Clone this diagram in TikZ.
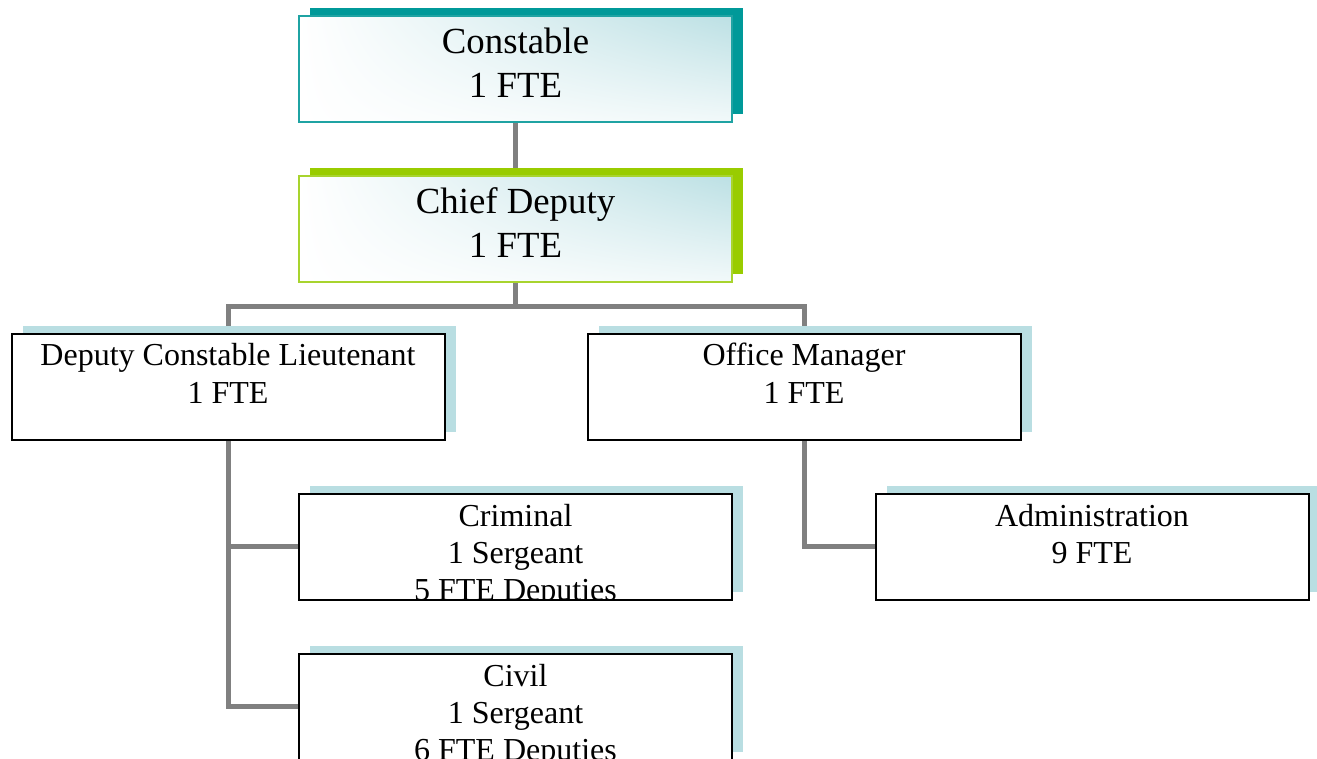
\documentclass[tikz,border=0pt]{standalone}
\usepackage{fontspec}
\setmainfont{Liberation Serif}
\usetikzlibrary{shadows,shadings,backgrounds}
\definecolor{tealdark}{HTML}{009999}
\definecolor{tealedge}{HTML}{1FA3A3}
\definecolor{limegreen}{HTML}{99CC00}
\definecolor{limeedge}{HTML}{A8D42E}
\definecolor{paleblue}{HTML}{B9DEE2}
\definecolor{shadeblue}{HTML}{BCE0E4}
\definecolor{linkgray}{HTML}{808080}
\begin{document}
\begin{tikzpicture}[x=1pt,y=-1pt,
  unitbox/.style={rectangle,minimum width=433pt,minimum height=106pt,
    inner sep=0pt,outer sep=0pt,line width=2pt},
  headbox/.style={unitbox,draw=#1,
    upper left=white,lower left=white,
    upper right=shadeblue,lower right=white!80!shadeblue},
  shadowed/.style={drop shadow={shadow xshift=11pt,shadow yshift=8pt,
    fill=#1,opacity=1}},
  unitbox plain/.style={unitbox,draw=black,fill=white,shadowed=paleblue},
  bigtext/.style={anchor=base,align=center,inner sep=0pt,
    font=\fontsize{36.8pt}{44pt}\selectfont},
  smalltext/.style={anchor=base,align=center,inner sep=0pt,
    font=\fontsize{32pt}{37.4pt}\selectfont},
  link/.style={draw=linkgray,line width=5pt}]
\useasboundingbox (0,0) rectangle (1317,759);

% boxes
\node[headbox=tealedge,shadowed=tealdark] (con) at (515.5,69) {};
\node[headbox=limeedge,shadowed=limegreen] (chief) at (515.5,229) {};
\node[unitbox plain] (dcl) at (228,386.5) {};
\node[unitbox plain] (om) at (804,386.5) {};
\node[unitbox plain] (crim) at (515.5,546.5) {};
\node[unitbox plain] (civ) at (515.5,706.5) {};
\node[unitbox plain] (adm) at (1092,546.5) {};

% connectors behind the boxes
\begin{scope}[on background layer]
  \draw[link] (con.south) -- (chief.north);
  \draw[link] (chief.south) -- ++(0,25) coordinate (split) -| (dcl.north);
  \draw[link] (split) -| (om.north);
  \draw[link] (dcl.south) |- (crim.west);
  \draw[link] (dcl.south) |- (civ.west);
  \draw[link] (om.south) |- (adm.west);
\end{scope}

% labels (the base anchor sits on the last line)
\node[bigtext] (context) at ([yshift=-81.5pt]con.north) {Constable\\1 FTE};
\node[bigtext] (chieftext) at ([yshift=-81.2pt]chief.north) {Chief Deputy\\1 FTE};
\node[smalltext] (dcltext) at ([yshift=-69.5pt]dcl.north) {Deputy Constable Lieutenant\\1 FTE};
\node[smalltext] (omtext) at ([yshift=-69.5pt]om.north) {Office Manager\\1 FTE};
\node[smalltext] (admtext) at ([yshift=-70pt]adm.north) {Administration\\9 FTE};
\begin{scope}
  \clip ([shift={(1pt,-1pt)}]crim.north west) rectangle ([shift={(-1pt,1pt)}]crim.south east);
  \node[smalltext] (crimtext) at ([yshift=-107.3pt]crim.north) {Criminal\\1 Sergeant\\5 FTE Deputies};
\end{scope}
\begin{scope}
  \clip ([shift={(1pt,-1pt)}]civ.north west) rectangle ([shift={(-1pt,1pt)}]civ.south east);
  \node[smalltext] (civtext) at ([yshift=-107.3pt]civ.north) {Civil\\1 Sergeant\\6 FTE Deputies};
\end{scope}
\end{tikzpicture}
\end{document}
